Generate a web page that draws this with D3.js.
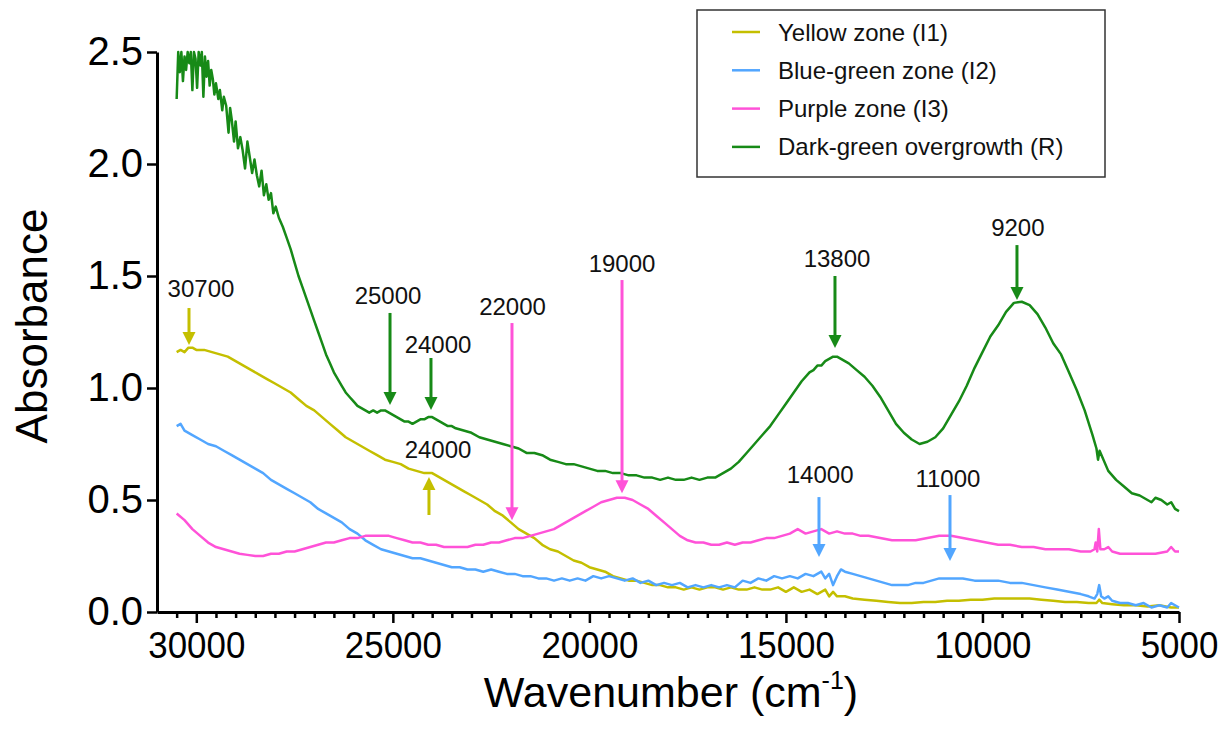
<!DOCTYPE html>
<html>
<head>
<meta charset="utf-8">
<script src="https://cdn.jsdelivr.net/npm/d3@7"></script>
<style>
  body { margin: 0; background: #fff; }
  svg { font-family: Arial, "Liberation Sans", sans-serif; }
</style>
</head>
<body>
<div class="chart"></div>
<script>
// spectra: [wavenumber (cm-1), absorbance]
const yellowZone = [[30500,1.16],[30400,1.17],[30300,1.16],[30200,1.18],[30100,1.18],[30000,1.17],[29800,1.17],[29600,1.16],[29400,1.15],[29200,1.14],[29000,1.12],[28800,1.10],[28600,1.08],[28400,1.06],[28200,1.04],[28000,1.02],[27800,1.00],[27600,0.98],[27400,0.95],[27200,0.92],[27000,0.90],[26800,0.87],[26600,0.84],[26400,0.81],[26200,0.78],[26000,0.76],[25800,0.74],[25600,0.72],[25400,0.70],[25200,0.68],[25000,0.67],[24800,0.66],[24600,0.64],[24400,0.63],[24200,0.62],[24000,0.62],[23800,0.60],[23600,0.58],[23400,0.56],[23200,0.54],[23000,0.52],[22800,0.50],[22600,0.48],[22400,0.45],[22200,0.43],[22000,0.40],[21800,0.37],[21600,0.35],[21400,0.33],[21200,0.30],[21000,0.28],[20800,0.27],[20600,0.25],[20400,0.23],[20200,0.22],[20000,0.20],[19800,0.19],[19600,0.18],[19400,0.16],[19200,0.15],[19000,0.14],[18800,0.14],[18600,0.13],[18400,0.12],[18200,0.12],[18000,0.11],[17800,0.11],[17600,0.10],[17400,0.11],[17200,0.10],[17000,0.11],[16800,0.11],[16600,0.10],[16400,0.11],[16200,0.10],[16000,0.10],[15800,0.11],[15600,0.10],[15400,0.10],[15200,0.11],[15000,0.09],[14800,0.11],[14600,0.09],[14400,0.10],[14200,0.08],[14000,0.10],[13900,0.07],[13800,0.09],[13700,0.07],[13500,0.07],[13300,0.06],[13000,0.055],[12700,0.05],[12400,0.045],[12100,0.04],[11800,0.04],[11500,0.045],[11200,0.045],[10900,0.05],[10600,0.05],[10300,0.055],[10000,0.055],[9700,0.06],[9400,0.06],[9100,0.06],[8800,0.06],[8500,0.055],[8200,0.05],[7900,0.045],[7600,0.045],[7300,0.04],[7100,0.04],[7030,0.055],[6950,0.04],[6700,0.035],[6400,0.03],[6100,0.03],[5800,0.025],[5500,0.03],[5200,0.02],[5000,0.02]];

const blueGreenZone = [[30500,0.83],[30400,0.84],[30300,0.81],[30100,0.79],[29900,0.77],[29700,0.75],[29500,0.74],[29300,0.72],[29100,0.70],[28900,0.68],[28700,0.66],[28500,0.64],[28300,0.62],[28100,0.59],[27900,0.57],[27700,0.55],[27500,0.53],[27300,0.51],[27100,0.49],[26900,0.46],[26700,0.44],[26500,0.42],[26300,0.40],[26100,0.37],[25900,0.35],[25700,0.32],[25500,0.30],[25300,0.28],[25100,0.27],[24900,0.26],[24700,0.25],[24500,0.24],[24300,0.24],[24100,0.23],[23900,0.22],[23700,0.21],[23500,0.20],[23300,0.20],[23100,0.19],[22900,0.19],[22700,0.18],[22500,0.19],[22300,0.18],[22100,0.17],[21900,0.17],[21700,0.16],[21500,0.16],[21300,0.15],[21100,0.15],[20900,0.14],[20700,0.15],[20500,0.14],[20300,0.15],[20100,0.14],[19900,0.16],[19700,0.15],[19500,0.16],[19300,0.15],[19100,0.14],[18900,0.15],[18700,0.13],[18500,0.14],[18300,0.12],[18100,0.13],[17900,0.12],[17700,0.13],[17500,0.11],[17300,0.12],[17100,0.11],[16900,0.12],[16700,0.11],[16500,0.12],[16300,0.11],[16100,0.14],[15900,0.13],[15700,0.15],[15500,0.14],[15300,0.16],[15100,0.15],[14900,0.16],[14700,0.15],[14500,0.17],[14300,0.16],[14100,0.18],[14000,0.15],[13900,0.17],[13800,0.12],[13700,0.16],[13600,0.19],[13500,0.18],[13300,0.17],[13100,0.16],[12900,0.15],[12700,0.14],[12500,0.13],[12300,0.12],[12100,0.12],[11900,0.12],[11700,0.13],[11500,0.13],[11300,0.14],[11100,0.15],[10900,0.15],[10700,0.15],[10500,0.15],[10200,0.14],[9900,0.14],[9600,0.14],[9300,0.13],[9000,0.13],[8700,0.12],[8400,0.11],[8100,0.10],[7800,0.09],[7500,0.08],[7300,0.07],[7150,0.06],[7080,0.08],[7030,0.12],[6980,0.07],[6900,0.06],[6800,0.07],[6700,0.05],[6500,0.04],[6300,0.04],[6100,0.03],[5900,0.04],[5700,0.02],[5500,0.03],[5300,0.02],[5200,0.04],[5100,0.03],[5000,0.02]];

const purpleZone = [[30500,0.44],[30300,0.41],[30100,0.37],[29900,0.34],[29700,0.31],[29500,0.29],[29300,0.28],[29100,0.27],[28900,0.26],[28700,0.255],[28500,0.25],[28300,0.25],[28100,0.26],[27900,0.26],[27700,0.27],[27500,0.27],[27300,0.28],[27100,0.29],[26900,0.30],[26700,0.31],[26500,0.31],[26300,0.32],[26100,0.33],[25900,0.33],[25700,0.34],[25500,0.34],[25300,0.34],[25100,0.34],[24900,0.33],[24700,0.32],[24500,0.31],[24300,0.31],[24100,0.30],[23900,0.30],[23700,0.29],[23500,0.29],[23300,0.29],[23100,0.29],[22900,0.30],[22700,0.30],[22500,0.31],[22300,0.31],[22100,0.32],[21900,0.33],[21700,0.33],[21500,0.34],[21300,0.35],[21100,0.36],[20900,0.37],[20700,0.39],[20500,0.41],[20300,0.43],[20100,0.45],[19900,0.47],[19700,0.49],[19500,0.50],[19300,0.51],[19100,0.51],[18900,0.50],[18700,0.48],[18500,0.46],[18300,0.43],[18100,0.40],[17900,0.37],[17700,0.34],[17500,0.32],[17300,0.31],[17100,0.31],[16900,0.30],[16700,0.30],[16500,0.31],[16300,0.30],[16100,0.31],[15900,0.31],[15700,0.32],[15500,0.33],[15300,0.33],[15100,0.34],[14900,0.35],[14700,0.37],[14500,0.35],[14300,0.36],[14100,0.37],[13900,0.35],[13700,0.36],[13500,0.35],[13300,0.35],[13100,0.34],[12900,0.34],[12600,0.33],[12300,0.32],[12000,0.32],[11700,0.32],[11400,0.33],[11100,0.34],[10800,0.34],[10500,0.33],[10200,0.32],[9900,0.31],[9600,0.30],[9300,0.30],[9000,0.29],[8700,0.29],[8400,0.28],[8100,0.28],[7800,0.28],[7500,0.27],[7250,0.27],[7150,0.28],[7120,0.31],[7080,0.27],[7040,0.37],[7000,0.28],[6900,0.28],[6800,0.29],[6700,0.27],[6500,0.26],[6200,0.26],[5900,0.26],[5600,0.26],[5300,0.27],[5200,0.29],[5100,0.27],[5000,0.27]];

const darkGreenOvergrowth = [[30500,2.29],[30460,2.50],[30420,2.41],[30380,2.50],[30340,2.37],[30300,2.48],[30260,2.42],[30220,2.50],[30180,2.45],[30140,2.50],[30100,2.33],[30060,2.50],[30020,2.47],[29980,2.34],[29940,2.50],[29900,2.44],[29860,2.50],[29820,2.30],[29780,2.48],[29740,2.39],[29700,2.46],[29660,2.35],[29620,2.42],[29580,2.38],[29540,2.31],[29500,2.36],[29440,2.29],[29400,2.33],[29340,2.24],[29300,2.30],[29240,2.26],[29180,2.14],[29140,2.25],[29100,2.20],[29040,2.10],[29000,2.19],[28940,2.07],[28880,2.12],[28820,2.06],[28760,1.98],[28700,2.10],[28640,2.03],[28580,1.96],[28520,2.02],[28460,1.95],[28400,1.90],[28340,1.97],[28280,1.86],[28220,1.91],[28160,1.84],[28100,1.87],[28040,1.78],[27980,1.81],[27900,1.76],[27800,1.72],[27700,1.67],[27600,1.62],[27500,1.56],[27400,1.50],[27300,1.45],[27200,1.40],[27100,1.35],[27000,1.30],[26900,1.25],[26800,1.20],[26700,1.15],[26600,1.11],[26500,1.07],[26400,1.04],[26300,1.01],[26200,0.98],[26100,0.96],[26000,0.94],[25900,0.92],[25800,0.91],[25700,0.90],[25600,0.89],[25500,0.90],[25400,0.89],[25300,0.90],[25200,0.90],[25100,0.89],[25000,0.88],[24900,0.87],[24800,0.86],[24700,0.85],[24600,0.85],[24500,0.84],[24400,0.85],[24300,0.86],[24200,0.86],[24100,0.87],[24000,0.87],[23900,0.86],[23800,0.85],[23700,0.84],[23600,0.83],[23500,0.83],[23400,0.82],[23200,0.81],[23000,0.80],[22800,0.78],[22600,0.77],[22400,0.76],[22200,0.75],[22000,0.74],[21800,0.73],[21600,0.71],[21400,0.71],[21200,0.70],[21000,0.68],[20800,0.67],[20600,0.66],[20400,0.66],[20200,0.65],[20000,0.64],[19800,0.63],[19600,0.63],[19400,0.62],[19200,0.62],[19000,0.61],[18800,0.61],[18600,0.60],[18400,0.60],[18200,0.59],[18000,0.60],[17800,0.59],[17600,0.59],[17400,0.60],[17200,0.59],[17000,0.60],[16800,0.60],[16600,0.62],[16400,0.64],[16200,0.67],[16000,0.71],[15800,0.75],[15600,0.79],[15400,0.83],[15200,0.88],[15000,0.93],[14800,0.98],[14600,1.03],[14400,1.07],[14300,1.08],[14200,1.10],[14100,1.10],[14000,1.12],[13900,1.13],[13800,1.14],[13700,1.14],[13600,1.13],[13400,1.11],[13200,1.08],[13000,1.05],[12800,1.01],[12600,0.96],[12400,0.90],[12200,0.84],[12000,0.80],[11800,0.77],[11600,0.75],[11400,0.76],[11200,0.78],[11000,0.82],[10800,0.88],[10600,0.94],[10400,1.01],[10200,1.09],[10000,1.16],[9800,1.23],[9600,1.28],[9400,1.34],[9200,1.38],[9000,1.385],[8800,1.37],[8600,1.33],[8400,1.27],[8200,1.20],[8000,1.15],[7800,1.07],[7600,0.99],[7400,0.90],[7200,0.79],[7100,0.73],[7060,0.68],[7020,0.72],[6800,0.63],[6600,0.59],[6400,0.56],[6200,0.53],[6000,0.52],[5800,0.50],[5700,0.49],[5600,0.51],[5450,0.50],[5300,0.48],[5200,0.49],[5100,0.46],[5000,0.45]];

const seriesNames = ["Yellow zone (I1)", "Blue-green zone (I2)", "Purple zone (I3)", "Dark-green overgrowth (R)"];
const seriesValues = [yellowZone, blueGreenZone, purpleZone, darkGreenOvergrowth];

const xTickValues = [30000, 25000, 20000, 15000, 10000, 5000];
const yTickValues = [0, 0.5, 1.0, 1.5, 2.0, 2.5];

// peak annotations: label, which series, arrow x, arrow start/tip, label x/baseline
const peakLabels = ["30700", "25000", "24000", "24000", "22000", "19000", "13800", "9200", "14000", "11000"];
const peakSeries = [0, 3, 3, 0, 2, 2, 3, 3, 1, 1];
const arrowWn = [30186, 25072, 24030, 24081, 21969, 19170, 13752, 9122, 14159, 10826];
const arrowFrom = [1.357, 1.335, 1.134, 0.433, 1.29, 1.482, 1.50, 1.638, 0.513, 0.522];
const arrowTo = [1.192, 0.924, 0.902, 0.603, 0.41, 0.53, 1.179, 1.393, 0.246, 0.228];
const labelWn = [29881, 25122, 23851, 23851, 21955, 19170, 13700, 9100, 14130, 10880];
const labelAbs = [1.406, 1.375, 1.156, 0.6875, 1.326, 1.518, 1.54, 1.679, 0.576, 0.558];

const colors = ["#c4bf00", "#52a6ff", "#ff52d8", "#178a17"];

//SET UP svg
let svgWidth = 1223;
let svgHeight = 737;
const margin = {top: 52, right: 44, bottom: 125, left: 157};
let chartWidth = svgWidth - margin.left - margin.right;
let chartHeight = svgHeight - margin.top - margin.bottom;

let svg = d3.select(".chart")
            .append("svg")
            .attr("width", svgWidth)
            .attr("height", svgHeight);

let chart = svg.append("g")
               .attr("transform", `translate(${margin.left},${margin.top})`);

let xScale = d3.scaleLinear().domain([31000, 5000]).range([0, chartWidth]);
let yScale = d3.scaleLinear().domain([0, 2.5]).range([chartHeight, 0]);

let line = d3.line()
             .x(d => xScale(d[0]))
             .y(d => yScale(d[1]));

// spectra
seriesValues.forEach((vals, i) => {
  chart.append("path")
       .datum(vals)
       .attr("fill", "none")
       .attr("stroke", colors[i])
       .attr("stroke-width", 2.5)
       .attr("stroke-linejoin", "round")
       .attr("d", line);
});

// axes
let minorTicks = d3.range(30500, 5000, -500).filter(v => v % 5000 !== 0);

chart.append("g")
     .attr("class", "minor")
     .attr("transform", `translate(0,${chartHeight})`)
     .call(d3.axisBottom(xScale).tickValues(minorTicks).tickSize(6).tickSizeOuter(0).tickFormat(""))
     .call(g => g.select(".domain").remove());

let xAxis = chart.append("g")
     .attr("transform", `translate(0,${chartHeight})`)
     .call(d3.axisBottom(xScale).tickValues(xTickValues).tickSize(11).tickSizeOuter(0).tickPadding(9).tickFormat(d3.format("d")));

xAxis.selectAll("text")
     .attr("font-size", 37)
     .attr("fill", "#000")
     .attr("textLength", d => String(d).length * 19.4)
     .attr("lengthAdjust", "spacingAndGlyphs");

let yAxis = chart.append("g")
     .call(d3.axisLeft(yScale).tickValues(yTickValues).tickSize(10).tickSizeOuter(0).tickPadding(4).tickFormat(d3.format(".1f")));

yAxis.selectAll("text")
     .attr("font-size", 40)
     .attr("fill", "#000");

chart.selectAll(".domain").attr("stroke", "#000").attr("stroke-width", 3);
chart.selectAll(".tick line").attr("stroke", "#000").attr("stroke-width", 2.5);

// axis titles
let xTitle = svg.append("text")
   .attr("x", 671)
   .attr("y", 707)
   .attr("text-anchor", "middle")
   .attr("font-size", 43)
   .text("Wavenumber (cm");
xTitle.append("tspan").attr("font-size", 25).attr("dy", -18).text("-1");
xTitle.append("tspan").attr("dy", 18).text(")");

svg.append("text")
   .attr("transform", "translate(47,326) rotate(-90)")
   .attr("text-anchor", "middle")
   .attr("font-size", 44)
   .text("Absorbance");

// peak arrows
const headLen = 13, headHalf = 6.5;
peakLabels.forEach((lab, i) => {
  let x = xScale(arrowWn[i]);
  let y0 = yScale(arrowFrom[i]);
  let y1 = yScale(arrowTo[i]);
  let dir = y1 > y0 ? 1 : -1;
  let col = colors[peakSeries[i]];
  chart.append("line")
       .attr("x1", x).attr("x2", x)
       .attr("y1", y0).attr("y2", y1 - dir * (headLen - 1))
       .attr("stroke", col)
       .attr("stroke-width", 3);
  chart.append("path")
       .attr("d", `M${x - headHalf},${y1 - dir * headLen}L${x + headHalf},${y1 - dir * headLen}L${x},${y1}Z`)
       .attr("fill", col);
  chart.append("text")
       .attr("x", xScale(labelWn[i]))
       .attr("y", yScale(labelAbs[i]))
       .attr("text-anchor", "middle")
       .attr("font-size", 24)
       .attr("fill", "#111")
       .text(lab);
});

// legend
let legend = svg.append("g").attr("transform", "translate(697,10)");
legend.append("rect")
      .attr("width", 408).attr("height", 167)
      .attr("fill", "#fff")
      .attr("stroke", "#333")
      .attr("stroke-width", 1.5);

seriesNames.forEach((name, i) => {
  let ly = 22 + i * 38.3;
  legend.append("line")
        .attr("x1", 35).attr("x2", 63)
        .attr("y1", ly).attr("y2", ly)
        .attr("stroke", colors[i])
        .attr("stroke-width", 2.5);
  legend.append("text")
        .attr("x", 81)
        .attr("y", ly + 8.5)
        .attr("font-size", 24)
        .attr("fill", "#111")
        .text(name);
});
</script>
</body>
</html>
